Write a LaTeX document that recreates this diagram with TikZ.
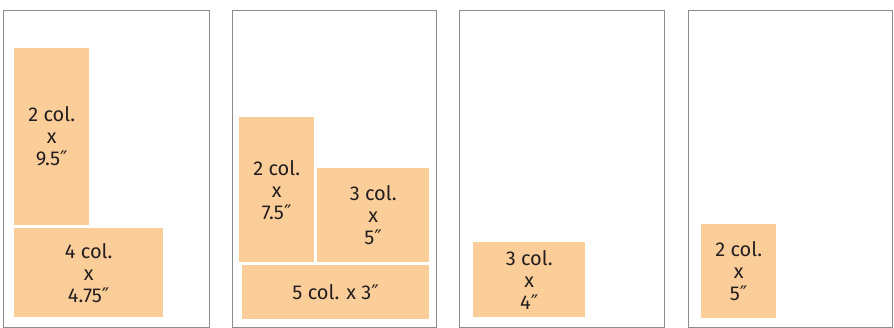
\documentclass[tikz,border=0pt]{standalone}
\usepackage{fontspec}
\setmainfont{Fira Sans}
\newfontfamily\primefont{DejaVu Sans}
\usepackage{xcolor}
\usepackage{tikz}

\definecolor{adfill}{HTML}{FBCD98}
\definecolor{pageline}{HTML}{8C8C8C}
\definecolor{adtext}{HTML}{231F20}
\newcommand{\inch}{{\primefont ″}}

\begin{document}
\begin{tikzpicture}[x=1pt, y=-1pt,
        page/.style={draw=pageline, line width=1pt, inner sep=0pt,
        anchor=north west},
        ad/.style={fill=adfill, align=center, inner sep=0pt, anchor=north west,
        text=adtext, font=\fontsize{20}{22}\selectfont}]
        \useasboundingbox (0,0) rectangle (894,328);

        % pages
        \node[page, minimum width=206pt, minimum height=317pt] (P1) at (3,10) {};
        \node[page, minimum width=204pt, minimum height=317pt] (P2) at (232,10) {};
        \node[page, minimum width=205pt, minimum height=317pt] (P3) at (459,10) {};
        \node[page, minimum width=204pt, minimum height=317pt] (P4) at (688,10) {};

        % page 1
        \node[ad, minimum width=75pt, minimum height=177pt] (A) at (14,48) {2 col.\\x\\9.5\inch};
        \node[ad, minimum width=149pt, minimum height=89pt] (B) at (14,228) {4 col.\\x\\4.75\inch};

        % page 2
        \node[ad, minimum width=75pt, minimum height=145pt] (C) at (239,117) {2 col.\\x\\7.5\inch};
        \node[ad, minimum width=112pt, minimum height=94pt] (D) at (317,168) {3 col.\\x\\5\inch};
        \node[ad, minimum width=187pt, minimum height=54pt] (E) at (242,265) {5 col. x 3\inch};

        % pages 3 and 4
        \node[ad, minimum width=112pt, minimum height=75pt] (F) at (473,242) {3 col.\\x\\4\inch};
        \node[ad, minimum width=75pt, minimum height=94pt] (G) at (701,224) {2 col.\\x\\5\inch};
    \end{tikzpicture}
\end{document}
